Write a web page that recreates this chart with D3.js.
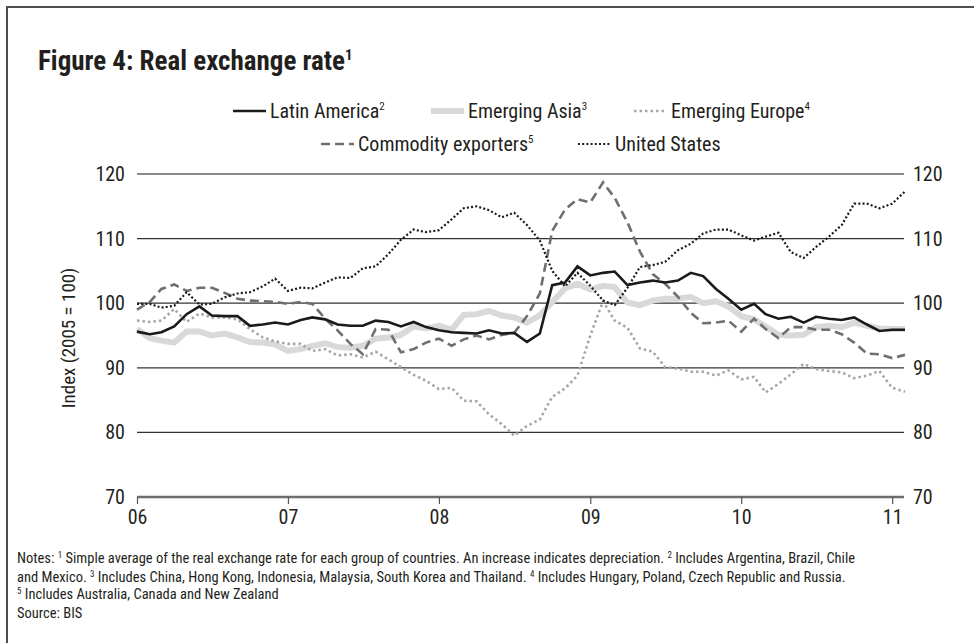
<!DOCTYPE html>
<html>
<head>
<meta charset="utf-8">
<script src="https://cdn.jsdelivr.net/npm/d3@7/dist/d3.min.js"></script>
<style>
  body { margin: 0; background: #fff; }
  svg text { font-family: "Liberation Sans Narrow", "Roboto Condensed", "DejaVu Sans Condensed", "Arial Narrow", sans-serif; fill: #231f20; }
</style>
</head>
<body>
<div id="chart"></div>
<script>
var width = 974;
var height = 643;

// monthly observations, Jan 2006 - Feb 2011
var months = d3.timeMonth.range(new Date(2006, 0, 1), new Date(2011, 1, 2));

var latinAmerica = [95.6, 95.2, 95.5, 96.4, 98.3, 99.5, 98.1, 98.0, 98.0, 96.5, 96.7, 97.0,
  96.7, 97.4, 97.8, 97.5, 96.7, 96.5, 96.5, 97.3, 97.1, 96.4, 97.1, 96.3,
  95.8, 95.5, 95.4, 95.3, 95.8, 95.3, 95.4, 94.0, 95.3, 102.8, 103.2, 105.7,
  104.3, 104.7, 104.9, 102.8, 103.2, 103.5, 103.2, 103.5, 104.7, 104.2, 102.2, 100.7,
  99.0, 99.9, 98.3, 97.6, 97.9, 97.0, 97.9, 97.6, 97.4, 97.8, 96.7, 95.7,
  95.9, 95.9];
var emergingAsia = [96.0, 94.6, 94.2, 93.9, 95.6, 95.6, 95.0, 95.3, 94.7, 94.0, 93.9, 93.6,
  92.6, 92.9, 93.4, 93.8, 93.2, 93.1, 93.4, 94.5, 94.7, 95.1, 96.4, 96.1,
  96.5, 95.9, 98.2, 98.3, 98.8, 98.1, 97.8, 97.0, 98.1, 100.2, 102.3, 103.0,
  102.1, 102.7, 102.5, 100.1, 99.7, 100.4, 100.7, 100.7, 101.0, 100.0, 100.3, 99.5,
  98.0, 97.5, 96.4, 95.1, 95.0, 95.1, 96.3, 96.5, 96.3, 97.0, 96.5, 96.1,
  96.0, 96.0];
var emergingEurope = [97.3, 97.1, 97.3, 99.1, 97.1, 98.4, 97.8, 97.8, 97.5, 96.0, 94.7, 94.1,
  93.7, 93.7, 92.6, 92.9, 91.9, 92.1, 91.6, 92.5, 91.3, 90.1, 88.9, 88.0,
  86.7, 86.9, 84.9, 84.8, 82.8, 81.3, 79.5, 81.0, 82.0, 85.5, 86.8, 88.8,
  95.0, 100.3, 97.3, 96.2, 93.0, 92.5, 90.1, 89.9, 89.4, 89.4, 88.8, 89.6,
  88.2, 88.6, 86.2, 87.5, 89.0, 90.6, 89.8, 89.5, 89.3, 88.4, 88.8, 89.5,
  86.9, 86.3];
var commodityExporters = [99.0, 100.2, 102.2, 102.9, 101.9, 102.4, 102.4, 101.6, 100.7, 100.4, 100.3, 100.2,
  99.9, 100.2, 99.9, 97.6, 95.8, 93.7, 92.1, 96.0, 95.9, 92.4, 92.9, 93.9,
  94.5, 93.4, 94.4, 95.0, 94.4, 95.1, 95.4, 98.0, 101.5, 111.2, 114.5, 116.1,
  115.6, 118.7, 116.3, 112.5, 108.0, 104.5, 103.0, 101.0, 98.5, 96.9, 97.0, 97.3,
  95.6, 97.6, 96.0, 94.6, 96.3, 96.3, 95.9, 95.9, 95.2, 93.9, 92.2, 92.1,
  91.5, 92.0];
var unitedStates = [99.9, 99.9, 99.3, 99.6, 101.7, 99.8, 99.9, 100.9, 101.5, 101.7, 102.6, 103.8,
  101.9, 102.4, 102.3, 103.2, 104.0, 103.9, 105.4, 105.7, 107.6, 109.8, 111.4, 111.0,
  111.3, 113.0, 114.7, 115.0, 114.4, 113.3, 114.0, 112.1, 109.7, 105.0, 102.6, 104.7,
  102.7, 100.4, 99.7, 102.4, 105.6, 105.9, 106.4, 108.2, 109.2, 110.8, 111.4, 111.4,
  110.5, 109.7, 110.3, 110.9, 107.9, 107.0, 108.7, 110.3, 112.1, 115.4, 115.4, 114.7,
  115.4, 117.3];

var yTicks = [70, 80, 90, 100, 110, 120];
var yearTicks = [2006, 2007, 2008, 2009, 2010, 2011];

var svg = d3.select("#chart").append("svg").attr("width", width).attr("height", height);

// frame
svg.append("rect").attr("x", 7).attr("y", 7).attr("width", 1000).attr("height", 700)
  .attr("fill", "none").attr("stroke", "#4d4d4d").attr("stroke-width", 2);

svg.append("text").attr("x", 38).attr("y", 70)
  .attr("font-size", 27).attr("font-weight", "bold")
  .html('Figure 4: Real exchange rate<tspan font-size="15" dy="-10">1</tspan>');

var x = d3.scaleTime().domain([new Date(2006, 0, 1), new Date(2011, 1, 1)]).range([137, 905]);
var y = d3.scaleLinear().domain([70, 120]).range([497, 174]);

// gridlines
var grid = svg.append("g");
grid.selectAll("line").data(yTicks.slice(1)).enter().append("line")
  .attr("x1", 137).attr("x2", 904)
  .attr("y1", function(d){ return y(d); }).attr("y2", function(d){ return y(d); })
  .attr("stroke", function(d){ return d == 120 ? "#8a8a8a" : "#333"; })
  .attr("stroke-width", function(d){ return d == 120 ? 2 : 1.3; });

// bottom axis
var xAxis = d3.axisBottom(x)
  .tickValues(yearTicks.map(function(d){ return new Date(d, 0, 1); }))
  .tickFormat(d3.timeFormat("%y")).tickSize(7).tickPadding(6);
var gx = svg.append("g").attr("transform", "translate(0," + y(70) + ")").call(xAxis);
gx.select(".domain").attr("d", "M137,0H904").attr("stroke", "#6d6d6d").attr("stroke-width", 2.5);
gx.selectAll(".tick line").attr("stroke", "#555").attr("stroke-width", 1.2);
gx.selectAll(".tick text").attr("font-size", 20).attr("fill", "#231f20")
  .style("font-family", null);

// y labels both sides
var labels = svg.append("g");
labels.selectAll(".yl").data(yTicks).enter().append("text")
  .attr("x", 125).attr("y", function(d){ return y(d) + 7; })
  .attr("text-anchor", "end").attr("font-size", 20).text(function(d){ return d; });
labels.selectAll(".yr").data(yTicks).enter().append("text")
  .attr("x", 913).attr("y", function(d){ return y(d) + 7; })
  .attr("text-anchor", "start").attr("font-size", 20).text(function(d){ return d; });

svg.append("text").attr("transform", "translate(75,338) rotate(-90)")
  .attr("text-anchor", "middle").attr("font-size", 19).text("Index (2005 = 100)");

var series = [
  { name: "Emerging Asia", sup: "3", values: emergingAsia, color: "#d9d9d9", w: 6, dash: null },
  { name: "Emerging Europe", sup: "4", values: emergingEurope, color: "#a6a6a6", w: 2.6, dash: "2.5,3" },
  { name: "Commodity exporters", sup: "5", values: commodityExporters, color: "#6f6f6f", w: 2.6, dash: "9,5" },
  { name: "United States", sup: "", values: unitedStates, color: "#1a1a1a", w: 2.2, dash: "2,2.2" },
  { name: "Latin America", sup: "2", values: latinAmerica, color: "#1a1a1a", w: 2.6, dash: null }
];

var line = d3.line()
  .x(function(d, i){ return x(months[i]); })
  .y(function(d){ return y(d); });

svg.append("g").selectAll("path").data(series).enter().append("path")
  .attr("d", function(d){ return line(d.values); })
  .attr("fill", "none")
  .attr("stroke", function(d){ return d.color; })
  .attr("stroke-width", function(d){ return d.w; })
  .attr("stroke-dasharray", function(d){ return d.dash; })
  .attr("stroke-linejoin", "miter");

// legend
var legendPos = {
  "Latin America": [233, 111], "Emerging Asia": [431, 111], "Emerging Europe": [634, 111],
  "Commodity exporters": [321, 144], "United States": [578, 144]
};
var lg = svg.append("g").selectAll("g").data(series).enter().append("g")
  .attr("transform", function(d){ var p = legendPos[d.name]; return "translate(" + p[0] + "," + p[1] + ")"; });
lg.append("line").attr("x1", 0).attr("x2", 33).attr("y1", 0).attr("y2", 0)
  .attr("stroke", function(d){ return d.color; })
  .attr("stroke-width", function(d){ return d.name == "Emerging Asia" ? 6 : d.w; })
  .attr("stroke-dasharray", function(d){ return d.dash; });
lg.append("text").attr("x", 37).attr("y", 7).attr("font-size", 20)
  .html(function(d){ return d.name + (d.sup ? '<tspan font-size="11" dy="-8">' + d.sup + '</tspan>' : ''); });

// notes
var notes = [
  'Notes: <tspan font-size="9" dy="-5">1</tspan><tspan dy="5"> Simple average of the real exchange rate for each group of countries. An increase indicates depreciation. </tspan><tspan font-size="9" dy="-5">2</tspan><tspan dy="5"> Includes Argentina, Brazil, Chile</tspan>',
  'and Mexico. <tspan font-size="9" dy="-5">3</tspan><tspan dy="5"> Includes China, Hong Kong, Indonesia, Malaysia, South Korea and Thailand. </tspan><tspan font-size="9" dy="-5">4</tspan><tspan dy="5"> Includes Hungary, Poland, Czech Republic and Russia.</tspan>',
  '<tspan font-size="9" dy="-5">5</tspan><tspan dy="5"> Includes Australia, Canada and New Zealand</tspan>',
  'Source: BIS'
];
var noteY = [563, 582, 599, 618];
svg.append("g").selectAll("text").data(notes).enter().append("text")
  .attr("x", 17).attr("y", function(d, i){ return noteY[i]; })
  .attr("font-size", 14.5).html(function(d){ return d; });
</script>
</body>
</html>
